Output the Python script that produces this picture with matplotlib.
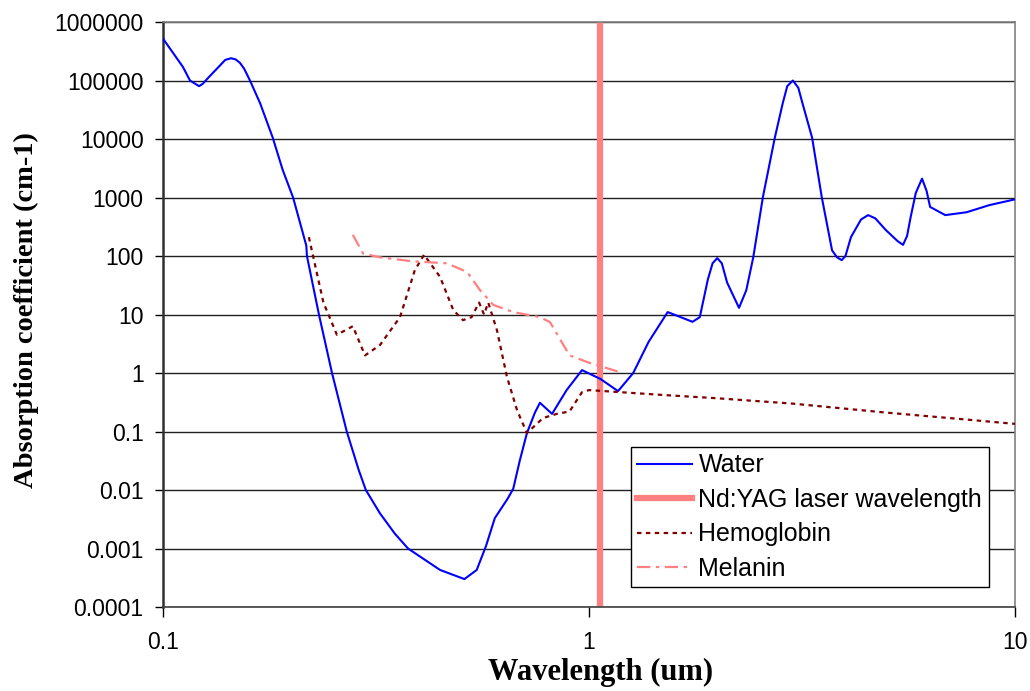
import matplotlib
matplotlib.use("Agg")
import matplotlib.pyplot as plt

# values (wavelength in um, absorption in cm-1)
water_wl = [0.1, 0.1114, 0.1157, 0.1215, 0.124, 0.1275, 0.136, 0.14, 0.1444, 0.148,
            0.1516, 0.155, 0.16, 0.169, 0.181, 0.191, 0.202, 0.217, 0.2177, 0.2323,
            0.2493, 0.270, 0.288, 0.2993, 0.323, 0.35, 0.376, 0.447, 0.51, 0.545,
            0.573, 0.601, 0.645, 0.664, 0.688, 0.715, 0.7465, 0.767, 0.819, 0.886,
            0.963, 1.064, 1.17, 1.27, 1.38, 1.53, 1.75, 1.82, 1.90, 1.95,
            2.0, 2.05, 2.11, 2.25, 2.34, 2.43, 2.56, 2.73, 2.85, 2.92,
            3.01, 3.1, 3.17, 3.34, 3.52, 3.72, 3.82, 3.92, 4.0, 4.12,
            4.35, 4.52, 4.7, 4.97, 5.3, 5.46, 5.58, 5.69, 5.85, 6.05,
            6.2, 6.32, 6.86, 7.7, 8.7, 10.0]
water_abs = [5.2e5, 1.7e5, 1.0e5, 8.0e4, 8.8e4, 1.1e5, 1.8e5, 2.25e5, 2.4e5, 2.3e5,
             2.0e5, 1.6e5, 1.0e5, 4.1e4, 1.05e4, 2950, 1000, 150, 100, 10,
             1.0, 0.1, 0.022, 0.01, 0.004, 0.0018, 0.001, 4.3e-4, 3.0e-4, 4.3e-4,
             0.0011, 0.0033, 0.0072, 0.0105, 0.032, 0.094, 0.21, 0.31, 0.2, 0.51,
             1.12, 0.79, 0.49, 1.0, 3.4, 11, 7.5, 9, 39, 75,
             92, 75, 35, 13, 26, 95, 1020, 1.05e4, 4.1e4, 8.0e4,
             1.0e5, 7.5e4, 4.1e4, 1.05e4, 1000, 125, 95, 85, 100, 210,
             420, 500, 440, 280, 180, 155, 220, 465, 1200, 2100,
             1300, 690, 500, 560, 740, 930]

hemo_wl = [0.22, 0.238, 0.256, 0.279, 0.298, 0.323, 0.36, 0.39, 0.41, 0.447,
           0.48, 0.506, 0.53, 0.552, 0.567, 0.58, 0.608, 0.642, 0.678, 0.715,
           0.78, 0.84, 0.90, 0.963, 1.0, 1.5, 2.0, 3.0, 5.0, 7.0, 10.0]
hemo_abs = [210, 16, 4.5, 6.3, 2.0, 3.0, 9, 57, 105, 44,
            12, 8, 9, 16, 10, 16, 5.4, 0.85, 0.23, 0.094,
            0.17, 0.2, 0.22, 0.47, 0.51, 0.42, 0.37, 0.3, 0.21, 0.17, 0.135]

melanin_wl = [0.279, 0.295, 0.323, 0.386, 0.464, 0.518, 0.555, 0.596, 0.664, 0.767,
              0.81, 0.90, 1.0, 1.2]
melanin_abs = [230, 110, 95, 81, 75, 53, 26, 14.6, 11, 9,
               7.4, 2.0, 1.5, 1.0]

nd_yag_wl = 1.064

y_ticks = [0.0001, 0.001, 0.01, 0.1, 1, 10, 100, 1000, 10000, 100000, 1000000]
y_tick_labels = ['0.0001', '0.001', '0.01', '0.1', '1', '10', '100', '1000',
                 '10000', '100000', '1000000']
x_ticks = [0.1, 1, 10]
x_tick_labels = ['0.1', '1', '10']

plt.rcParams['font.family'] = ['Liberation Sans', 'DejaVu Sans']

fig = plt.figure(figsize=(10.30, 6.91), dpi=100)
ax = fig.add_axes([163 / 1030, 1 - 607 / 691, 852 / 1030, 585 / 691])

ax.plot(water_wl, water_abs, color='#0000FF', lw=1.5, label='Water', zorder=3)
ax.axvline(nd_yag_wl, color='#FF8080', lw=4.5, label='Nd:YAG laser wavelength', zorder=2)
ax.plot(hemo_wl, hemo_abs, color='#800000', lw=1.6, linestyle=(0, (2, 2)),
        label='Hemoglobin', zorder=3)
ax.plot(melanin_wl, melanin_abs, color='#FF8080', lw=1.6,
        linestyle=(0, (6, 2.5, 1.5, 2.5)), label='Melanin', zorder=3)

ax.set_xscale('log')
ax.set_yscale('log')
ax.set_xlim(0.1, 10)
ax.set_ylim(0.0001, 1000000)

ax.set_yticks(y_ticks)
ax.set_yticklabels(y_tick_labels)
ax.set_xticks(x_ticks)
ax.set_xticklabels(x_tick_labels)
ax.minorticks_off()
ax.tick_params(axis='y', labelsize=16.5, length=6, width=1, pad=8, direction='out')
ax.tick_params(axis='x', labelsize=16.5, length=7, width=1, pad=10, direction='out')

ax.yaxis.grid(True, color='#202020', lw=1)
ax.xaxis.grid(False)
ax.set_axisbelow(True)

ax.spines['left'].set_color('#303030')
ax.spines['left'].set_linewidth(1.8)
ax.spines['bottom'].set_color('#404040')
ax.spines['bottom'].set_linewidth(1.2)
ax.spines['right'].set_color('#808080')
ax.spines['right'].set_linewidth(1.2)
ax.spines['top'].set_color('#808080')
ax.spines['top'].set_linewidth(1.2)

fig.text(601 / 1030, 1 - 672 / 691, 'Wavelength (um)', ha='center', va='center',
         family='Liberation Serif', weight='bold', fontsize=22)
fig.text(26 / 1030, 1 - 310 / 691, 'Absorption coefficient (cm-1)', ha='center',
         va='center', rotation=90, family='Liberation Serif', weight='bold',
         fontsize=20.5)

leg = ax.legend(loc='upper left', bbox_to_anchor=(631 / 1030, 1 - 447 / 691),
                bbox_transform=fig.transFigure, borderaxespad=0, fontsize=18,
                frameon=True, fancybox=False, shadow=False, handlelength=2.2,
                handletextpad=0.25, labelspacing=0.42, borderpad=0.25)
leg.get_frame().set_edgecolor('black')
leg.get_frame().set_linewidth(1.0)
leg.get_frame().set_alpha(1)

fig.savefig('out.png', dpi=100)
